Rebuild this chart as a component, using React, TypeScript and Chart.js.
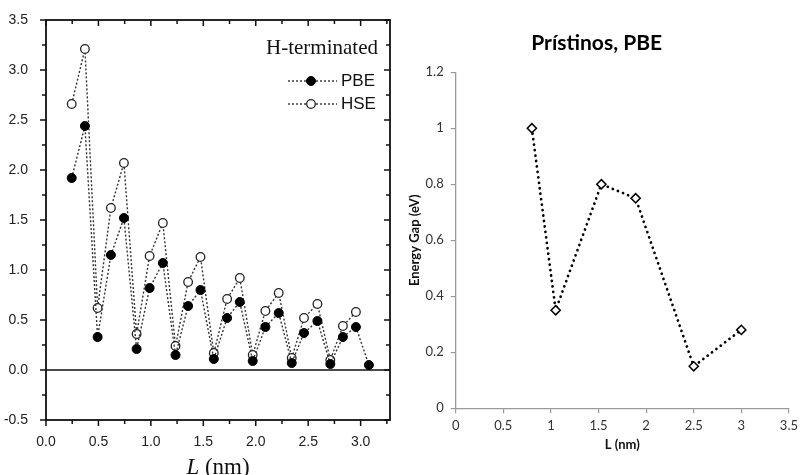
import React, { useEffect, useRef } from "react";
import { Chart, registerables } from "chart.js";

Chart.register(...registerables);

// ---------- Left chart data (H-terminated) ----------
const LEFT_L = [0.245, 0.371, 0.492, 0.619, 0.743, 0.864, 0.988, 1.114, 1.235, 1.355, 1.473, 1.6, 1.727, 1.848, 1.971, 2.092, 2.219, 2.343, 2.46, 2.588, 2.711, 2.831, 2.955, 3.079];
const LEFT_PBE = [1.92, 2.44, 0.33, 1.15, 1.52, 0.21, 0.82, 1.07, 0.15, 0.64, 0.8, 0.11, 0.52, 0.68, 0.09, 0.43, 0.57, 0.07, 0.37, 0.49, 0.06, 0.33, 0.43, 0.05];
const LEFT_HSE = [2.66, 3.21, 0.62, 1.62, 2.07, 0.36, 1.14, 1.47, 0.24, 0.88, 1.13, 0.17, 0.71, 0.92, 0.15, 0.59, 0.77, 0.12, 0.52, 0.66, 0.1, 0.44, 0.58, null];
const LEFT_X_MAJOR = [0, 0.5, 1, 1.5, 2, 2.5, 3];
const LEFT_X_MINOR = [0.25, 0.75, 1.25, 1.75, 2.25, 2.75, 3.25];
const LEFT_Y_MAJOR = [-0.5, 0, 0.5, 1, 1.5, 2, 2.5, 3, 3.5];
const LEFT_Y_MINOR = [-0.25, 0.25, 0.75, 1.25, 1.75, 2.25, 2.75, 3.25];
const LEFT_LEGEND_TITLE = "H-terminated";

// ---------- Right chart data (Prístinos, PBE) ----------
const RIGHT_L = [0.8, 1.05, 1.53, 1.89, 2.5, 3.0];
const RIGHT_GAP = [1.0, 0.35, 0.8, 0.75, 0.15, 0.28];
const RIGHT_TITLE = "Prístinos, PBE";

const SANS = "'Liberation Sans', Arial, sans-serif";
const SERIF = "'Liberation Serif', 'Times New Roman', serif";
const CAL = "Lato, 'Open Sans', sans-serif";

const leftDecor = {
  id: "leftDecor",
  beforeDatasetsDraw(chart: any) {
    const { ctx, chartArea: a, scales } = chart;
    const y0 = scales.y.getPixelForValue(0);
    ctx.save();
    ctx.strokeStyle = "#111";
    ctx.lineWidth = 1.6;
    ctx.beginPath();
    ctx.moveTo(a.left, y0);
    ctx.lineTo(a.right, y0);
    ctx.stroke();
    ctx.restore();
  },
  afterDraw(chart: any) {
    const { ctx, chartArea: a, scales } = chart;
    const xs = scales.x;
    const ys = scales.y;
    ctx.save();
    ctx.strokeStyle = "#111";
    ctx.lineWidth = 1.8;
    ctx.strokeRect(a.left, a.top, a.right - a.left, a.bottom - a.top);
    ctx.lineWidth = 1.5;
    const tick = (x1: number, y1: number, x2: number, y2: number) => {
      ctx.beginPath();
      ctx.moveTo(x1, y1);
      ctx.lineTo(x2, y2);
      ctx.stroke();
    };
    const xt = (vals: number[], len: number) => {
      vals.forEach((v) => {
        const px = xs.getPixelForValue(v);
        if (px < a.left - 0.5 || px > a.right + 0.5) return;
        tick(px, a.bottom, px, a.bottom + len);
        tick(px, a.top, px, a.top + len);
      });
    };
    const yt = (vals: number[], len: number) => {
      vals.forEach((v) => {
        const py = ys.getPixelForValue(v);
        tick(a.left, py, a.left - len, py);
        tick(a.right, py, a.right - len, py);
      });
    };
    xt(LEFT_X_MAJOR, 6);
    xt(LEFT_X_MINOR, 4);
    yt(LEFT_Y_MAJOR, 6);
    yt(LEFT_Y_MINOR, 4);

    // legend
    ctx.fillStyle = "#111";
    ctx.textBaseline = "middle";
    ctx.textAlign = "right";
    ctx.font = `21px ${SERIF}`;
    ctx.fillText(LEFT_LEGEND_TITLE, 378, 48);
    const rows = [81, 104];
    chart.data.datasets.forEach((ds: any, i: number) => {
      const cy = rows[i];
      ctx.save();
      ctx.strokeStyle = ds.borderColor;
      ctx.lineWidth = ds.borderWidth;
      ctx.setLineDash(ds.borderDash);
      ctx.beginPath();
      ctx.moveTo(288, cy);
      ctx.lineTo(337, cy);
      ctx.stroke();
      ctx.restore();
      ctx.beginPath();
      ctx.arc(311, cy, ds.pointRadius, 0, Math.PI * 2);
      ctx.fillStyle = ds.pointBackgroundColor;
      ctx.fill();
      ctx.lineWidth = ds.pointBorderWidth;
      ctx.strokeStyle = ds.pointBorderColor;
      ctx.stroke();
      ctx.fillStyle = "#111";
      ctx.textAlign = "left";
      ctx.font = `17px ${SANS}`;
      ctx.fillText(ds.label, 341, cy);
    });

    // x-axis title: italic L + (nm)
    const cx = (a.left + a.right) / 2;
    ctx.font = `italic 23px ${SERIF}`;
    const wL = ctx.measureText("L").width;
    ctx.font = `23px ${SERIF}`;
    const wR = ctx.measureText(" (nm)").width;
    const start = cx - (wL + wR) / 2;
    ctx.textAlign = "left";
    ctx.textBaseline = "alphabetic";
    ctx.font = `italic 23px ${SERIF}`;
    ctx.fillText("L", start, 474);
    ctx.font = `23px ${SERIF}`;
    ctx.fillText(" (nm)", start + wL, 474);
    ctx.restore();
  },
};

function LeftChart() {
  const ref = useRef<HTMLCanvasElement>(null);
  useEffect(() => {
    const tickFont = { family: SANS, size: 14 };
    const chart = new Chart(ref.current as HTMLCanvasElement, {
      type: "line",
      data: {
        datasets: [
          {
            label: "PBE",
            data: LEFT_L.map((x, i) => ({ x, y: LEFT_PBE[i] })),
            borderColor: "#333",
            borderWidth: 1.4,
            borderDash: [2, 2],
            pointRadius: 4.5,
            pointBackgroundColor: "#000",
            pointBorderColor: "#000",
            pointBorderWidth: 1,
            tension: 0,
          },
          {
            label: "HSE",
            data: LEFT_L.map((x, i) => ({ x, y: LEFT_HSE[i] })),
            borderColor: "#333",
            borderWidth: 1.4,
            borderDash: [2, 2],
            pointRadius: 4.3,
            pointBackgroundColor: "#fff",
            pointBorderColor: "#222",
            pointBorderWidth: 1.3,
            tension: 0,
          },
        ],
      } as any,
      options: {
        animation: false,
        responsive: false,
        maintainAspectRatio: false,
        layout: { padding: { left: 0, right: 10, top: 20, bottom: 0 } },
        plugins: { legend: { display: false }, tooltip: { enabled: false }, title: { display: false } },
        scales: {
          x: {
            type: "linear",
            min: 0,
            max: 3.28,
            grid: { display: false },
            border: { display: false },
            ticks: { font: tickFont, color: "#222", padding: 6, maxRotation: 0, autoSkip: false, callback: (v: any) => Number(v).toFixed(1) },
            afterBuildTicks: (s: any) => { s.ticks = LEFT_X_MAJOR.map((v) => ({ value: v })); },
            afterFit: (s: any) => { s.height = 55; },
          },
          y: {
            type: "linear",
            min: -0.5,
            max: 3.5,
            grid: { display: false },
            border: { display: false },
            ticks: { font: tickFont, color: "#222", padding: 10, autoSkip: false, callback: (v: any) => Number(v).toFixed(1) },
            afterBuildTicks: (s: any) => { s.ticks = LEFT_Y_MAJOR.map((v) => ({ value: v })); },
            afterFit: (s: any) => { s.width = 46; },
          },
        },
      } as any,
      plugins: [leftDecor],
    });
    return () => chart.destroy();
  }, []);
  return <canvas ref={ref} width={400} height={475} style={{ position: "absolute", left: 0, top: 0, width: 400, height: 475 }} />;
}

function RightChart() {
  const ref = useRef<HTMLCanvasElement>(null);
  useEffect(() => {
    const fmt = (v: any) => String(Math.round(Number(v) * 10) / 10);
    const axisGray = "#9a9a9a";
    const chart = new Chart(ref.current as HTMLCanvasElement, {
      type: "line",
      data: {
        datasets: [
          {
            label: "PBE",
            data: RIGHT_L.map((x, i) => ({ x, y: RIGHT_GAP[i] })),
            borderColor: "#000",
            borderWidth: 2.7,
            borderDash: [0.1, 5.4],
            borderCapStyle: "round",
            pointStyle: "rectRot",
            pointRadius: 4.6,
            pointBackgroundColor: "#fff",
            pointBorderColor: "#000",
            pointBorderWidth: 1.5,
            tension: 0,
          },
        ],
      } as any,
      options: {
        animation: false,
        responsive: false,
        maintainAspectRatio: false,
        layout: { padding: { left: 0, right: 9.7, top: 0, bottom: 0 } },
        plugins: {
          legend: { display: false },
          tooltip: { enabled: false },
          title: {
            display: true,
            text: RIGHT_TITLE,
            color: "#000",
            font: { family: CAL, size: 21, weight: "bold" },
            padding: { top: 31, bottom: 16 },
          },
        },
        scales: {
          x: {
            type: "linear",
            min: 0,
            max: 3.5,
            grid: { display: true, drawOnChartArea: false, drawTicks: true, tickLength: 5, color: axisGray, lineWidth: 1.2 },
            border: { display: true, color: axisGray, width: 1.3 },
            ticks: { stepSize: 0.5, font: { family: CAL, size: 13 }, color: "#333", padding: 5, maxRotation: 0, callback: fmt },
            title: { display: true, text: "L (nm)", color: "#111", font: { family: CAL, size: 13, weight: "bold" }, padding: { top: 0, bottom: 22 } },
            afterFit: (s: any) => { s.height = 66.7; },
          },
          y: {
            type: "linear",
            min: 0,
            max: 1.2,
            grid: { display: true, drawOnChartArea: false, drawTicks: true, tickLength: 5, color: axisGray, lineWidth: 1.2 },
            border: { display: true, color: axisGray, width: 1.3 },
            ticks: { stepSize: 0.2, font: { family: CAL, size: 13 }, color: "#333", padding: 7, callback: fmt },
            title: { display: true, text: "Energy Gap (eV)", color: "#111", font: { family: CAL, size: 13, weight: "bold" }, padding: { top: 7, bottom: 0 } },
            afterFit: (s: any) => { s.width = 55.7; },
          },
        },
      } as any,
    });
    return () => chart.destroy();
  }, []);
  return <canvas ref={ref} width={403} height={475} style={{ position: "absolute", left: 400, top: 0, width: 403, height: 475 }} />;
}

export default function App() {
  return (
    <div style={{ position: "fixed", left: 0, top: 0, width: 803, height: 475, background: "#fff", overflow: "hidden" }}>
      <LeftChart />
      <RightChart />
    </div>
  );
}
